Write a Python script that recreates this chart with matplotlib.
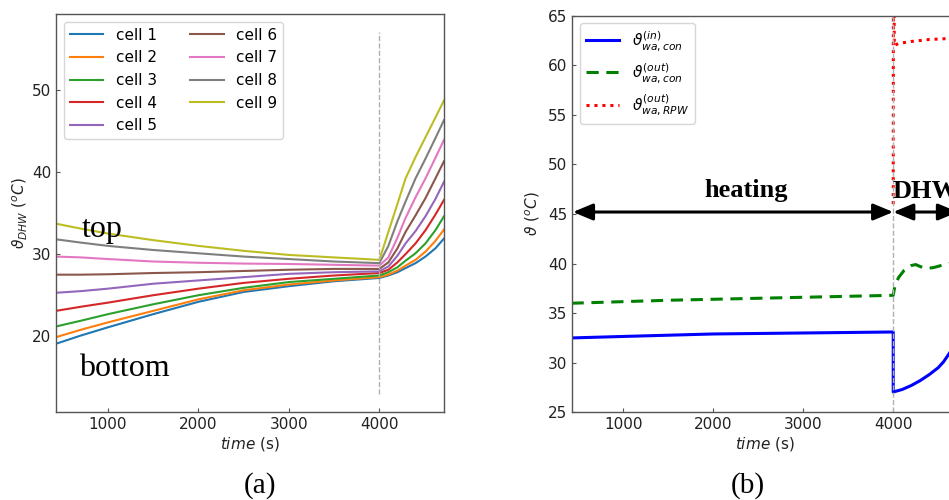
import matplotlib
matplotlib.use("Agg")
import matplotlib.pyplot as plt

# ---------------- data (a) ----------------
t_cells = [425, 700, 1000, 1500, 2000, 2500, 3000, 3500, 4000,
           4100, 4200, 4290, 4400, 4510, 4620, 4715]
cell1 = [19.1, 20.1, 21.1, 22.7, 24.2, 25.4, 26.1, 26.7, 27.1,
         27.4, 27.8, 28.3, 28.9, 29.7, 30.7, 31.9]
cell2 = [19.9, 20.8, 21.7, 23.1, 24.5, 25.6, 26.3, 26.8, 27.2,
         27.5, 28.0, 28.6, 29.3, 30.3, 31.6, 33.0]
cell3 = [21.2, 21.9, 22.7, 23.9, 25.0, 25.9, 26.6, 27.0, 27.4,
         27.8, 28.4, 29.2, 30.1, 31.3, 32.9, 34.6]
cell4 = [23.1, 23.6, 24.1, 25.0, 25.8, 26.5, 27.0, 27.4, 27.7,
         28.1, 29.0, 30.0, 31.3, 32.9, 34.8, 36.6]
cell5 = [25.3, 25.5, 25.8, 26.4, 26.8, 27.2, 27.6, 27.8, 27.9,
         28.5, 29.8, 31.3, 32.8, 34.6, 36.7, 38.8]
cell6 = [27.5, 27.5, 27.55, 27.7, 27.8, 27.95, 28.1, 28.2, 28.2,
         29.0, 30.7, 32.7, 34.7, 36.8, 39.2, 41.3]
cell7 = [29.7, 29.6, 29.4, 29.1, 28.95, 28.85, 28.8, 28.7, 28.6,
         29.6, 32.0, 34.4, 36.9, 39.2, 41.7, 43.9]
cell8 = [31.8, 31.4, 31.0, 30.5, 30.1, 29.7, 29.4, 29.1, 28.9,
         31.0, 34.0, 36.4, 39.2, 41.6, 44.1, 46.3]
cell9 = [33.7, 33.1, 32.5, 31.7, 31.0, 30.4, 29.9, 29.6, 29.3,
         32.7, 36.1, 39.2, 41.8, 44.2, 46.6, 48.7]
cells = [cell1, cell2, cell3, cell4, cell5, cell6, cell7, cell8, cell9]
cell_labels = ["cell 1", "cell 2", "cell 3", "cell 4", "cell 5", "cell 6", "cell 7", "cell 8", "cell 9"]

# ---------------- data (b) ----------------
t_in = [425, 1000, 2000, 3000, 4000, 4000, 4100, 4200, 4300, 4400, 4500, 4560, 4620, 4720]
wa_con_in = [32.5, 32.65, 32.9, 33.0, 33.1, 27.05, 27.3, 27.7, 28.2, 28.8, 29.5, 30.1, 30.9, 32.3]
t_out = [425, 1500, 3000, 4000, 4020, 4060, 4120, 4200, 4250, 4300, 4370, 4450, 4550, 4620, 4720]
wa_con_out = [36.0, 36.3, 36.6, 36.8, 37.8, 38.6, 39.3, 39.8, 39.9, 39.7, 39.5, 39.6, 39.85, 40.0, 40.2]
t_rpw = [4000, 4003, 4012, 4060, 4200, 4400, 4620, 4720]
wa_rpw_out = [46.0, 80.0, 62.0, 62.2, 62.4, 62.6, 62.7, 62.75]
rb_labels = [r"$\vartheta_{wa,con}^{(in)}$", r"$\vartheta_{wa,con}^{(out)}$", r"$\vartheta_{wa,RPW}^{(out)}$"]

XLIM = (425, 4715)
TXT = "#222222"
SPINE = "#555555"

fig = plt.figure(figsize=(9.49, 5.0), dpi=100)

def style(ax):
    for s in ax.spines.values():
        s.set_color(SPINE)
        s.set_linewidth(1.0)
    ax.tick_params(direction="in", length=3, width=0.8, color=SPINE,
                   labelsize=11, labelcolor=TXT)

# ---------- panel (a) ----------
ax1 = fig.add_axes([56/949, 88/500, 388/949, 398/500])
colors = [f"C{i}" for i in range(9)]
for vals, lab, c in zip(cells, cell_labels, colors):
    ax1.plot(t_cells, vals, color=c, lw=1.5, label=lab)
ax1.vlines(4000, 13, 57, colors="#b0b0b0", linestyles="--", lw=1.0)
ax1.set_xlim(*XLIM)
ax1.set_ylim(10.8, 59.2)
ax1.set_xticks([1000, 2000, 3000, 4000])
ax1.set_yticks([20, 30, 40, 50])
ax1.set_xlabel(r"$time$ (s)", fontsize=11, color=TXT, labelpad=2)
ax1.set_ylabel(r"$\vartheta_{DHW}$ ($^oC$)", fontsize=11, color=TXT, labelpad=2)
style(ax1)
leg1 = ax1.legend(loc="upper left", ncol=2, fontsize=11, frameon=True,
                  fancybox=True, borderaxespad=0.5, columnspacing=2.2,
                  handlelength=2.2)
leg1.get_frame().set_edgecolor("#cccccc")
ax1.text(715, 32.1, "top", family="Liberation Serif", fontsize=23, ha="left", va="baseline")
ax1.text(680, 15.2, "bottom", family="Liberation Serif", fontsize=23, ha="left", va="baseline")

# ---------- panel (b) ----------
ax2 = fig.add_axes([572/949, 87.7/500, 386/949, 396.6/500])
ax2.plot(t_in, wa_con_in, color="b", lw=2.2, label=rb_labels[0])
ax2.plot(t_out, wa_con_out, color="g", lw=2.2, ls=(0, (4, 2.5)), label=rb_labels[1])
ax2.plot(t_rpw, wa_rpw_out, color="r", lw=2.2, ls=(0, (1, 1.6)), label=rb_labels[2])
ax2.axvline(4000, color="#b0b0b0", ls="--", lw=1.0)
ax2.set_xlim(430, 4720)
ax2.set_ylim(25, 65)
ax2.set_xticks([1000, 2000, 3000, 4000])
ax2.set_yticks([25, 30, 35, 40, 45, 50, 55, 60, 65])
ax2.set_xlabel(r"$time$ (s)", fontsize=11, color=TXT, labelpad=2)
ax2.set_ylabel(r"$\vartheta$ ($^oC$)", fontsize=11, color=TXT, labelpad=4)
style(ax2)
ax2.spines["right"].set_visible(False)
leg2 = ax2.legend(loc="upper left", fontsize=11, frameon=True, fancybox=True,
                  borderaxespad=0.5, handlelength=2.2)
leg2.get_frame().set_edgecolor("#cccccc")

arrow = dict(arrowstyle="<|-|>,head_length=1.2,head_width=0.5", color="k",
             lw=2.2, mutation_scale=10, shrinkA=0, shrinkB=0)
ax2.annotate("", xy=(440, 45.2), xytext=(4000, 45.2), arrowprops=arrow)
ax2.annotate("", xy=(4000, 45.2), xytext=(4720, 45.2), arrowprops=arrow)
ax2.text(2370, 46.7, "heating", family="Liberation Serif", weight="bold",
         fontsize=19, ha="center", va="baseline")
ax2.text(4360, 46.6, "DHW", family="Liberation Serif", weight="bold",
         fontsize=19, ha="center", va="baseline")

fig.text(260/949, 1 - 486/500, "(a)", family="Liberation Serif", fontsize=21,
         ha="center", va="center")
fig.text(748/949, 1 - 486/500, "(b)", family="Liberation Serif", fontsize=21,
         ha="center", va="center")

fig.savefig("out.png", dpi=100)
